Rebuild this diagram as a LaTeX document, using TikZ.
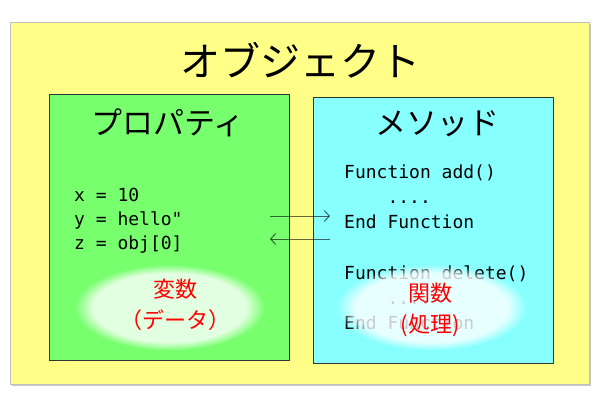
\documentclass[tikz,border=0pt]{standalone}
\usepackage{fontspec}
\newfontfamily\jp{Noto Sans CJK JP}
\setmonofont{DejaVu Sans Mono}
\usetikzlibrary{arrows.meta,fadings}
\definecolor{bgyellow}{HTML}{FFFF88}
\definecolor{boxgreen}{HTML}{77FF6E}
\definecolor{boxcyan}{HTML}{88FFFF}
\definecolor{redtext}{HTML}{FF0000}
\begin{document}
\begin{tikzpicture}[x=1pt,y=-1pt,
  outerbox/.style={draw=black!25, line width=1pt, fill=bgyellow, inner sep=0pt, anchor=north west},
  innerbox/.style={draw=black!80, line width=1pt, inner sep=0pt, anchor=north west},
  heading/.style={font=\jp\fontsize{31}{36}\selectfont, inner sep=0pt},
  code/.style={font=\ttfamily\fontsize{18}{24}\selectfont, align=left, inner sep=0pt, anchor=base west},
  redlabel/.style={font=\jp\fontsize{22}{26}\selectfont, text=redtext, inner sep=0pt},
  glow/.style={fill=white, opacity=0.8, path fading=circle with fuzzy edge 20 percent},
  flow/.style={draw=black, draw opacity=0.6, line width=1pt, -{Straight Barb[length=5pt,width=11pt]}}
]
\useasboundingbox (0,0) rectangle (600,400);
\fill[black!22] (12,24) rectangle (591,386);
\node[outerbox, minimum width=579pt, minimum height=362pt] (obj) at (10,22) {};
\node[font=\jp\fontsize{40}{46}\selectfont, inner sep=0pt] (title) at (300,60) {オブジェクト};

\node[innerbox, fill=boxgreen, minimum width=240pt, minimum height=266pt] (prop) at (48.5,94) {};
\node[innerbox, fill=boxcyan, minimum width=240pt, minimum height=266pt] (meth) at (312.5,97) {};

\node[heading] (proptitle) at (168,123) {プロパティ};
\node[heading] (methtitle) at (437,124) {メソッド};

% anchor base = baseline of the last line
\node[code] (propcode) at (74,249.5) {x = 10\\y = hello"\\z = obj[0]};
\node[code, font=\ttfamily\fontsize{18}{25.3}\selectfont] (methcode) at (344,329.8)
  {Function add()\\\ \ \ \ ....\\End Function\\\strut\\Function delete()\\\ \ \ \ ....\\End Function};

\fill[glow] (169.5,307.5) ellipse (95 and 43);
\fill[glow] (431.5,307.5) ellipse (95 and 43);

\node[redlabel] (var) at (175,289) {変数};
\node[redlabel] (data) at (175,320) {（データ）};
\node[redlabel] (func) at (430,293) {関数};
\node[redlabel] (proc) at (430,325) {(処理)};

\coordinate (a1s) at (270,216);
\coordinate (a1e) at (330,216);
\coordinate (a2s) at (330,239);
\coordinate (a2e) at (270,239);
\draw[flow] (a1s) -- (a1e);
\draw[flow] (a2s) -- (a2e);
\end{tikzpicture}
\end{document}
